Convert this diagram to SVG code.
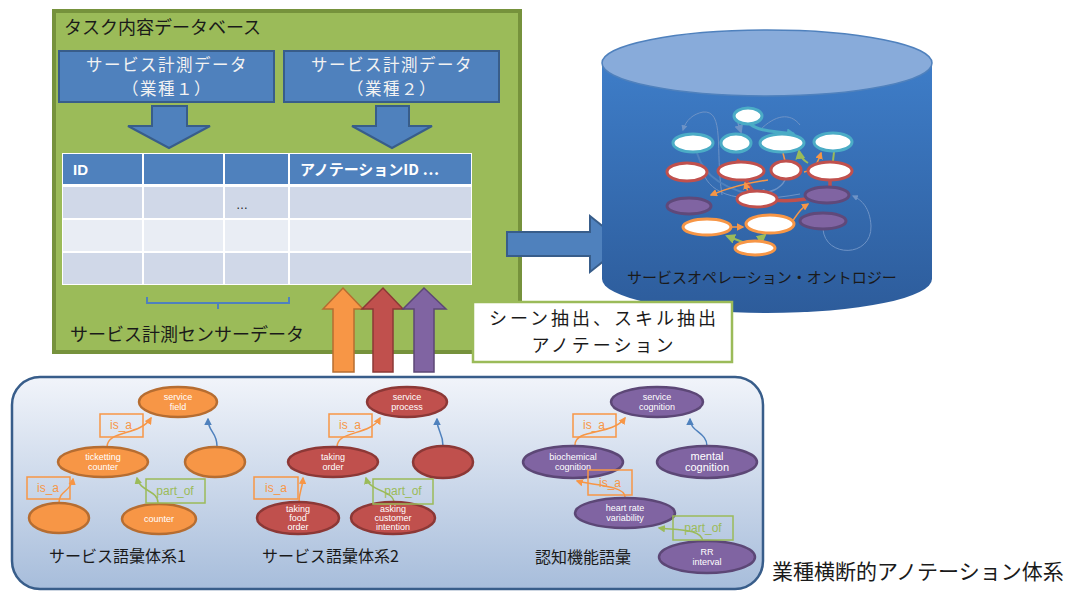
<svg xmlns="http://www.w3.org/2000/svg" width="1071" height="592" viewBox="0 0 1071 592">
<defs>
<linearGradient id="panelG" x1="0" y1="0" x2="0" y2="1">
<stop offset="0" stop-color="#F1F4FA"/><stop offset="1" stop-color="#A7BDDB"/>
</linearGradient>
<linearGradient id="cylG" x1="0" y1="0" x2="0" y2="1">
<stop offset="0" stop-color="#3E7DC8"/><stop offset="1" stop-color="#2D5C9B"/>
</linearGradient>
<marker id="mO" viewBox="0 0 10 10" refX="8" refY="5" markerWidth="5" markerHeight="5" orient="auto"><path d="M0,0 L10,5 L0,10 Z" fill="#F79646"/></marker>
<marker id="mB" viewBox="0 0 10 10" refX="8" refY="5" markerWidth="5" markerHeight="5" orient="auto"><path d="M0,0 L10,5 L0,10 Z" fill="#4F81BD"/></marker>
<marker id="mG" viewBox="0 0 10 10" refX="8" refY="5" markerWidth="5" markerHeight="5" orient="auto"><path d="M0,0 L10,5 L0,10 Z" fill="#9BBB59"/></marker>
<marker id="mR" viewBox="0 0 10 10" refX="8" refY="5" markerWidth="3" markerHeight="3" orient="auto"><path d="M0,0 L10,5 L0,10 Z" fill="#C0504D"/></marker>
<marker id="mC" viewBox="0 0 10 10" refX="8" refY="5" markerWidth="3" markerHeight="3" orient="auto"><path d="M0,0 L10,5 L0,10 Z" fill="#4BACC6"/></marker>
<marker id="mL" viewBox="0 0 10 10" refX="8" refY="5" markerWidth="6" markerHeight="6" orient="auto"><path d="M0,0 L10,5 L0,10 Z" fill="#6E93C6"/></marker>
</defs>
<style>
.jp{font-family:"Noto Sans CJK JP","Liberation Sans",sans-serif;fill:#1a1a1a}
.lat{font-family:"Liberation Sans","DejaVu Sans",sans-serif}
.nt{font-family:"Liberation Sans","DejaVu Sans",sans-serif;font-size:9px;fill:#ffffff;text-anchor:middle}
.ob{fill:#F79646;stroke:#B66D31;stroke-width:2.5}
.rb{fill:#C0504D;stroke:#8C3836;stroke-width:2.5}
.pb{fill:#8064A2;stroke:#5C4776;stroke-width:2.5}
.isa{fill:none;stroke:#F79646;stroke-width:1.5}
.isat{font-family:"Liberation Sans",sans-serif;font-size:12px;fill:#F79646;text-anchor:middle}
.pof{fill:none;stroke:#9BBB59;stroke-width:1.5}
.poft{font-family:"Liberation Sans",sans-serif;font-size:12px;fill:#9BBB59;text-anchor:middle}
.ao{fill:none;stroke:#F79646;stroke-width:1.5;marker-end:url(#mO)}
.ab{fill:none;stroke:#4F81BD;stroke-width:1.5;marker-end:url(#mB)}
.ag{fill:none;stroke:#9BBB59;stroke-width:1.5;marker-end:url(#mG)}
.cw{fill:#ffffff;stroke-width:3}
.cc{stroke:#4BACC6}
.cr{stroke:#C0504D}
.co{stroke:#F79646}
.cp{fill:#8064A2;stroke:#5F497A;stroke-width:3}
.blk{fill:#4F81BD;stroke:#385D8A;stroke-width:2}
.hd{fill:#4F81BD}
.r1{fill:#D0D8E8}
.r2{fill:#E9EDF4}
.bt{font-family:"Noto Sans CJK JP","Liberation Sans",sans-serif;font-size:16.5px;letter-spacing:1.5px;fill:#F2F2F2;text-anchor:middle}
</style>
<rect width="1071" height="592" fill="#ffffff"/>

<!-- Task DB -->
<g id="taskdb">
<rect x="54" y="11" width="466" height="341" fill="#9BBB59" stroke="#76923C" stroke-width="4"/>
<text class="jp" x="64" y="34" font-size="18">タスク内容データベース</text>
</g>
<g id="data1">
<rect class="blk" x="59" y="51" width="215" height="51"/>
<text class="bt"><tspan x="167" y="71">サービス計測データ</tspan><tspan x="167" y="95">（業種１）</tspan></text>
</g>
<g id="data2">
<rect class="blk" x="284" y="51" width="215" height="51"/>
<text class="bt"><tspan x="392" y="71">サービス計測データ</tspan><tspan x="392" y="95">（業種２）</tspan></text>
</g>
<g id="downarrows">
<path class="blk" d="M152,106 H187 V126 H210 L169,148 L128,126 H152 Z"/>
<path class="blk" d="M376,106 H409 V126 H432 L392,148 L352,126 H376 Z"/>
</g>
<g id="table">
<rect x="62" y="153" width="410" height="132" fill="#ffffff"/>
<rect class="hd" x="63" y="154" width="79" height="30"/>
<rect class="hd" x="144" y="154" width="79" height="30"/>
<rect class="hd" x="225" y="154" width="63" height="30"/>
<rect class="hd" x="290" y="154" width="181" height="30"/>
<rect class="r1" x="63" y="187" width="79" height="31"/>
<rect class="r1" x="144" y="187" width="79" height="31"/>
<rect class="r1" x="225" y="187" width="63" height="31"/>
<rect class="r1" x="290" y="187" width="181" height="31"/>
<rect class="r2" x="63" y="220" width="79" height="31"/>
<rect class="r2" x="144" y="220" width="79" height="31"/>
<rect class="r2" x="225" y="220" width="63" height="31"/>
<rect class="r2" x="290" y="220" width="181" height="31"/>
<rect class="r1" x="63" y="253" width="79" height="31"/>
<rect class="r1" x="144" y="253" width="79" height="31"/>
<rect class="r1" x="225" y="253" width="63" height="31"/>
<rect class="r1" x="290" y="253" width="181" height="31"/>
<text class="lat" x="73" y="175" font-size="15" font-weight="bold" fill="#ffffff">ID</text>
<text x="300" y="175" font-size="15" font-weight="bold" fill="#ffffff" style="font-family:'Noto Sans CJK JP','Liberation Sans',sans-serif">アノテーションID …</text>
<text class="lat" x="236" y="209" font-size="12" fill="#1a1a1a">…</text>
<path d="M147,297 V303 H289 V297 M218,303 V309" fill="none" stroke="#4F81BD" stroke-width="2"/>
<text class="jp" x="70" y="341" font-size="18">サービス計測センサーデータ</text>
</g>

<!-- right block arrow -->
<g id="toOntology">
<path class="blk" d="M507,232 H590 V216 L625,244 L590,272 V256 H507 Z"/>
</g>

<!-- Ontology cylinder -->
<g id="ontology">
<path d="M602,63 V279 A165,34 0 0 0 932,279 V63 Z" fill="url(#cylG)"/>
<ellipse cx="767" cy="63" rx="165" ry="33" fill="#88ABDA" stroke="#4F81BD" stroke-width="1.5"/>
<g fill="none">
<path d="M722,195 C715,150 725,110 703,112 C693,114 686,120 683,130" stroke="#6E93C6" stroke-width="1" marker-end="url(#mL)"/>
<path d="M823,229 C825,258 872,258 871,226 C870,208 862,200 853,196" stroke="#6E93C6" stroke-width="1" marker-end="url(#mL)"/>
<path d="M760,130 C775,115 790,112 800,125" stroke="#6E93C6" stroke-width="1"/>
<path d="M738,123 L741,132" stroke="#6E93C6" stroke-width="1.5" marker-end="url(#mL)"/>
<path d="M750,124 C760,132 775,131 794,134" stroke="#4BACC6" stroke-width="3" marker-end="url(#mC)"/>
<path d="M697,153 Q708,192 776,198" stroke="#4F81BD" stroke-width="2"/>
<path d="M703,172 C710,195 740,205 800,194" stroke="#6E93C6" stroke-width="1"/>
<path d="M785,180 C780,190 770,192 758,194" stroke="#6E93C6" stroke-width="1.5" marker-end="url(#mL)"/>
<path d="M806,199 C780,203 760,200 752,190 C745,180 740,170 738,160" stroke="#C0504D" stroke-width="3.5" marker-end="url(#mR)"/>
<path d="M830,178 V187" stroke="#C0504D" stroke-width="3.5"/>
<path d="M768,180 Q738,184 711,195" stroke="#F79646" stroke-width="1.5" marker-end="url(#mO)"/>
<path d="M748,192 L745,183" stroke="#F79646" stroke-width="1.5" marker-end="url(#mO)"/>
<path d="M785,161 L783,153" stroke="#F79646" stroke-width="1.5"/>
<path d="M804,172 C815,170 818,162 821,153" stroke="#F79646" stroke-width="1.5" marker-end="url(#mO)"/>
<path d="M808,163 C803,160 800,157 799,151" stroke="#9BBB59" stroke-width="2" marker-end="url(#mG)"/>
<path d="M833,161 L834,152" stroke="#9BBB59" stroke-width="2"/>
<path d="M792,222 C800,210 802,208 808,204" stroke="#F79646" stroke-width="1.5" marker-end="url(#mO)"/>
<path d="M731,227 L743,227" stroke="#F79646" stroke-width="1.5" marker-end="url(#mO)"/>
<path d="M745,243 L727,236" stroke="#9BBB59" stroke-width="2" marker-end="url(#mG)"/>
<path d="M758,241 L765,235" stroke="#9BBB59" stroke-width="2" marker-end="url(#mG)"/>
</g>
<ellipse class="cw cc" cx="748" cy="116" rx="14" ry="8"/>
<ellipse class="cw cc" cx="693" cy="143" rx="20" ry="9"/>
<ellipse class="cw cc" cx="736" cy="143" rx="15" ry="9"/>
<ellipse class="cw cc" cx="782" cy="143" rx="22" ry="9"/>
<ellipse class="cw cc" cx="833" cy="142" rx="19" ry="9"/>
<ellipse class="cw cr" cx="687" cy="172" rx="20" ry="9"/>
<ellipse class="cw cr" cx="741" cy="171" rx="23" ry="9"/>
<ellipse class="cw cr" cx="786" cy="170" rx="15" ry="9"/>
<ellipse class="cw cr" cx="830" cy="171" rx="22" ry="9"/>
<ellipse class="cw cr" cx="757" cy="199" rx="20" ry="8"/>
<ellipse class="cp" cx="689" cy="206" rx="22" ry="8"/>
<ellipse class="cp" cx="827" cy="195" rx="22" ry="8"/>
<ellipse class="cp" cx="823" cy="221" rx="23" ry="8"/>
<ellipse class="cw co" cx="707" cy="227" rx="24" ry="8"/>
<ellipse class="cw co" cx="770" cy="224" rx="24" ry="9"/>
<ellipse class="cw co" cx="755" cy="248" rx="20" ry="7"/>
<text class="jp" x="627" y="283" font-size="15">サービスオペレーション・オントロジー</text>
</g>

<!-- up arrows -->
<g id="uparrows">
<path d="M333,372 V309 H323 L343,288 L363,309 H354 V372 Z" fill="#F79646" stroke="#B66D31" stroke-width="1.5"/>
<path d="M373,372 V309 H362 L383,288 L403,309 H393 V372 Z" fill="#C0504D" stroke="#8C3836" stroke-width="1.5"/>
<path d="M414,372 V309 H403 L424,288 L446,309 H434 V372 Z" fill="#8064A2" stroke="#5C4776" stroke-width="1.5"/>
</g>

<g id="annotationLabel">
<rect x="473" y="302" width="259" height="60" fill="#ffffff" stroke="#9BBB59" stroke-width="2.5"/>
<text class="jp" font-size="18" text-anchor="middle" letter-spacing="3"><tspan x="604" y="325">シーン抽出、スキル抽出</tspan><tspan x="604" y="352">アノテーション</tspan></text>
</g>

<!-- bottom panel -->
<g id="vocabPanel">
<rect x="12" y="377" width="751" height="212" rx="28" fill="url(#panelG)" stroke="#385D8A" stroke-width="2.5"/>
<text class="jp" x="772" y="579" font-size="21">業種横断的アノテーション体系</text>
</g>

<g id="connectors">
<path class="ao" d="M107,447 C107,430 140,436 151,418"/>
<path class="ab" d="M217,446 C217,432 208,432 208,419"/>
<path class="ao" d="M59,503 C59,490 71,492 73,479"/>
<path class="ag" d="M158,503 C158,490 140,492 137,478"/>
<path class="ao" d="M337,447 C337,430 370,436 380,418"/>
<path class="ab" d="M443,446 C443,432 437,432 437,419"/>
<path class="ao" d="M299,503 C299,490 302,492 303,478"/>
<path class="ag" d="M394,503 C394,490 370,492 366,478"/>
<path class="ao" d="M575,445 C575,428 612,436 625,418"/>
<path class="ab" d="M707,446 C707,432 690,432 690,419"/>
<path class="ao" d="M625,497 C625,485 590,485 577,481"/>
<path class="ag" d="M703,542 C703,528 675,530 659,528"/>
</g>

<!-- vocabulary 1 -->
<g id="v1-servicefield"><ellipse class="ob" cx="178" cy="402" rx="39" ry="15"/><text class="nt"><tspan x="178" y="400">service</tspan><tspan x="178" y="410">field</tspan></text></g>
<g id="v1-ticketting"><ellipse class="ob" cx="103" cy="462" rx="45" ry="15"/><text class="nt"><tspan x="103" y="460">ticketting</tspan><tspan x="103" y="470">counter</tspan></text></g>
<g id="v1-right"><ellipse class="ob" cx="215" cy="462" rx="30" ry="15"/></g>
<g id="v1-left"><ellipse class="ob" cx="59" cy="518" rx="30" ry="15"/></g>
<g id="v1-counter"><ellipse class="ob" cx="159" cy="519" rx="37" ry="15"/><text class="nt" x="159" y="522">counter</text></g>
<g id="v1-labels">
<rect class="isa" x="100" y="414" width="43" height="23"/><text class="isat" x="121" y="429">is_a</text>
<rect class="isa" x="27" y="477" width="43" height="22"/><text class="isat" x="48" y="492">is_a</text>
<rect class="pof" x="146" y="479" width="59" height="24"/><text class="poft" x="175" y="495">part_of</text>
<text class="jp" x="49" y="562" font-size="16">サービス語彙体系1</text>
</g>

<!-- vocabulary 2 -->
<g id="v2-serviceprocess"><ellipse class="rb" cx="407" cy="402" rx="40" ry="15"/><text class="nt"><tspan x="407" y="400">service</tspan><tspan x="407" y="410">process</tspan></text></g>
<g id="v2-takingorder"><ellipse class="rb" cx="333" cy="462" rx="45" ry="15"/><text class="nt"><tspan x="333" y="460">taking</tspan><tspan x="333" y="470">order</tspan></text></g>
<g id="v2-right"><ellipse class="rb" cx="443" cy="462" rx="30" ry="16"/></g>
<g id="v2-food"><ellipse class="rb" cx="298" cy="518" rx="41" ry="16"/><text class="nt"><tspan x="298" y="512">taking</tspan><tspan x="298" y="521">food</tspan><tspan x="298" y="530">order</tspan></text></g>
<g id="v2-asking"><ellipse class="rb" cx="393" cy="518" rx="42" ry="16"/><text class="nt"><tspan x="393" y="512">asking</tspan><tspan x="393" y="521">customer</tspan><tspan x="393" y="530">intention</tspan></text></g>
<g id="v2-labels">
<rect class="isa" x="329" y="414" width="43" height="23"/><text class="isat" x="350" y="429">is_a</text>
<rect class="isa" x="254" y="477" width="44" height="22"/><text class="isat" x="276" y="492">is_a</text>
<rect class="pof" x="373" y="479" width="60" height="25"/><text class="poft" x="403" y="495">part_of</text>
<text class="jp" x="262" y="562" font-size="16">サービス語彙体系2</text>
</g>

<!-- vocabulary 3 -->
<g id="v3-servicecognition"><ellipse class="pb" cx="657" cy="402" rx="46" ry="15"/><text class="nt"><tspan x="657" y="400">service</tspan><tspan x="657" y="410">cognition</tspan></text></g>
<g id="v3-biochemical"><ellipse class="pb" cx="573" cy="462" rx="50" ry="16"/><text class="nt"><tspan x="573" y="460">biochemical</tspan><tspan x="573" y="470">cognition</tspan></text></g>
<g id="v3-mental"><ellipse class="pb" cx="707" cy="462" rx="50" ry="16"/><text class="nt" style="font-size:11px"><tspan x="707" y="460">mental</tspan><tspan x="707" y="471">cognition</tspan></text></g>
<g id="v3-hrv"><ellipse class="pb" cx="625" cy="513" rx="50" ry="15"/><text class="nt"><tspan x="625" y="511">heart rate</tspan><tspan x="625" y="521">variability</tspan></text></g>
<g id="v3-rr"><ellipse class="pb" cx="707" cy="557" rx="48" ry="16"/><text class="nt"><tspan x="707" y="555">RR</tspan><tspan x="707" y="565">interval</tspan></text></g>
<g id="v3-labels">
<rect class="isa" x="573" y="414" width="43" height="23"/><text class="isat" x="594" y="429">is_a</text>
<rect class="isa" x="588" y="470" width="44" height="25"/><text class="isat" x="610" y="487">is_a</text>
<rect class="pof" x="673" y="516" width="60" height="24"/><text class="poft" x="703" y="532">part_of</text>
<text class="jp" x="535" y="563" font-size="16">認知機能語彙</text>
</g>
</svg>
